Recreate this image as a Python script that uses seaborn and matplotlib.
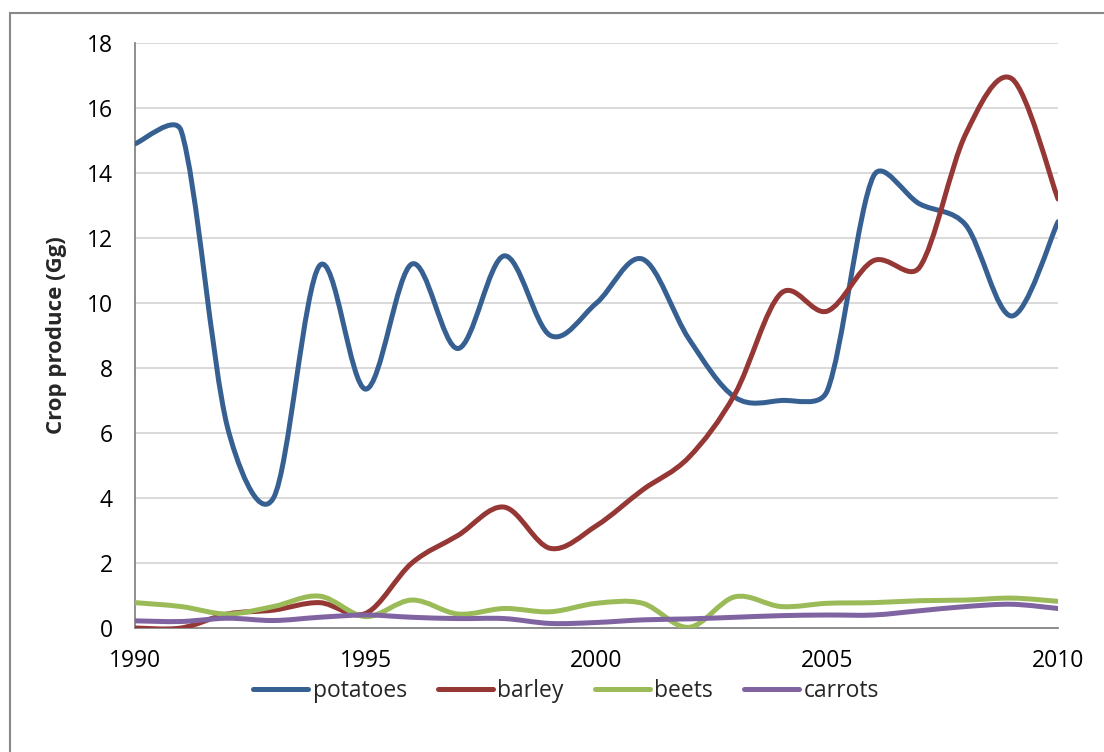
import numpy as np
import pandas as pd
import matplotlib.pyplot as plt
import seaborn as sns
from matplotlib.path import Path
from matplotlib.patches import PathPatch, Rectangle

# ------------------------------------------------------------------
# data
# ------------------------------------------------------------------
years = list(range(1990, 2011))
potatoes = [14.9, 15.3, 6.2, 4.0, 11.15, 7.35, 11.2, 8.6, 11.45, 9.0, 10.0,
            11.35, 8.9, 7.1, 7.0, 7.3, 13.9, 13.05, 12.4, 9.6, 12.5]
barley = [0.0, 0.0, 0.43, 0.55, 0.78, 0.45, 2.0, 2.85, 3.72, 2.45, 3.15,
          4.25, 5.25, 7.2, 10.3, 9.75, 11.3, 11.1, 15.2, 16.9, 13.2]
beets = [0.78, 0.66, 0.43, 0.66, 0.98, 0.35, 0.86, 0.43, 0.6, 0.5, 0.76,
         0.76, 0.02, 0.96, 0.66, 0.76, 0.78, 0.84, 0.86, 0.92, 0.82]
carrots = [0.22, 0.2, 0.3, 0.23, 0.33, 0.4, 0.33, 0.29, 0.29, 0.14, 0.17,
           0.25, 0.28, 0.33, 0.38, 0.4, 0.4, 0.53, 0.66, 0.73, 0.6]

crops = ['potatoes', 'barley', 'beets', 'carrots']
colors = ['#376092', '#953735', '#9BBB59', '#8064A2']

df = pd.DataFrame({'year': years * 4,
                   'value': potatoes + barley + beets + carrots,
                   'crop': np.repeat(crops, len(years))})


def smooth_path(ax, x, y, ratio=0.4):
    """
    Excel-like smoothed line: cubic Bezier through every data point.
    Tangents are worked out in pixel space and clipped by the length of the
    neighbouring segment, which keeps the overshoot small.
    """
    to_px = ax.transData
    pts = to_px.transform(np.column_stack([x, y]))
    n = len(pts)
    verts = [pts[0]]
    codes = [Path.MOVETO]
    for i in range(n - 1):
        a, b = pts[i], pts[i + 1]
        seg = np.hypot(*(b - a))
        ta = (pts[min(i + 1, n - 1)] - pts[max(i - 1, 0)]) / 6
        tb = (pts[min(i + 2, n - 1)] - pts[i]) / 6
        for t in (ta, tb):
            m = np.hypot(*t)
            if m > ratio * seg:
                t *= ratio * seg / m
        verts += [a + ta, b - tb, b]
        codes += [Path.CURVE4] * 3
    verts = to_px.inverted().transform(np.array(verts))
    return Path(verts, codes)


# ------------------------------------------------------------------
# plot
# ------------------------------------------------------------------
sns.set_style('white')
plt.rcParams['font.family'] = ['Open Sans', 'DejaVu Sans']

fig = plt.figure(figsize=(11.04, 7.52), dpi=100)
ax = fig.add_axes([135 / 1104, 1 - 628 / 752, 923 / 1104, 585 / 752])

lw = 3.6
sns.lineplot(data=df, x='year', y='value', hue='crop', hue_order=crops,
             palette=colors, linewidth=lw, ax=ax)

ax.set_xlim(1990, 2010)
ax.set_ylim(0, 18)

# swap the straight segments for smoothed curves
for line in ax.get_lines():
    xd, yd = line.get_data()
    if len(xd) < 2:
        continue
    ax.add_patch(PathPatch(smooth_path(ax, np.asarray(xd, float), np.asarray(yd, float)),
                           fill=False, ec=line.get_color(), lw=lw,
                           capstyle='round', joinstyle='round', zorder=3))
    line.set_visible(False)

ax.set_xticks(range(1990, 2011, 5))
ax.set_yticks(range(0, 19, 2))
ax.yaxis.grid(True, color='#D9D9D9', linewidth=1.4)
ax.set_axisbelow(True)

for side in ['top', 'right']:
    ax.spines[side].set_visible(False)
for side in ['left', 'bottom']:
    ax.spines[side].set_color('#868686')
    ax.spines[side].set_linewidth(1.3)

ax.tick_params(axis='both', direction='out', length=6, width=1.3,
               color='#868686', labelsize=16.5, labelcolor='black')
ax.tick_params(axis='y', pad=10)
ax.tick_params(axis='x', pad=9)
ax.set_xlabel('')
ax.set_ylabel('Crop produce (Gg)', fontsize=16, fontweight='bold', labelpad=14)

sns.move_legend(ax, 'center', bbox_to_anchor=((566 - 135) / 923, -(691 - 628) / 585),
                ncol=4, frameon=False, title=None, fontsize=16.5,
                handlelength=2.4, handletextpad=0.2, columnspacing=1.35)
for h in ax.get_legend().legend_handles:
    h.set_linewidth(lw)
    h.set_solid_capstyle('round')

# chart area border (left and top edges are visible in the picture)
fig.add_artist(Rectangle((10 / 1104, -0.1), 2, 0.1 + 1 - 13 / 752,
                         transform=fig.transFigure, fill=False,
                         ec='#888888', lw=1.5))

fig.savefig('out.png', dpi=100)
